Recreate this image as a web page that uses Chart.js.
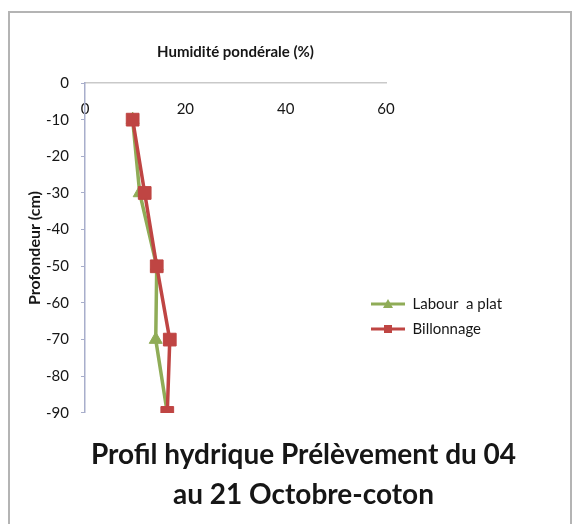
<!DOCTYPE html>
<html>
<head>
<meta charset="utf-8">
<script src="https://cdn.jsdelivr.net/npm/chart.js@4.4.1/dist/chart.umd.min.js"></script>
<style>
  html, body { margin: 0; padding: 0; background: #fff; }
  #frame { position: absolute; left: 8px; top: 11px; width: 560px; height: 520px; border: 2px solid #b4b4b4; border-bottom: none; }
  #myChart { position: absolute; left: 0; top: 0; }
</style>
</head>
<body>
<div id="frame"></div>
<canvas id="myChart" width="573" height="524"></canvas>
<script>
// profondeur des prélèvements (cm) et humidité pondérale (%)
const profondeur = [-10, -30, -50, -70, -90];
const labourAPlat = [9.5, 10.9, 14.3, 14.1, 16.4];
const billonnage = [9.5, 11.9, 14.3, 16.9, 16.4];
const seriesNames = ['Labour  a plat', 'Billonnage'];
const humiditeTicks = [0, 20, 40, 60];
const profondeurTicks = [0, -10, -20, -30, -40, -50, -60, -70, -80, -90];
const titleLines = ['Profil hydrique Prélèvement du 04', 'au 21 Octobre-coton'];

const green = '#8fac57';
const red = '#bf4543';
const font = 'Lato';
const textColor = '#161616';

// petite icone de légende : trait + marqueur (style Excel)
function legendIcon(color, shape) {
    const c = document.createElement('canvas');
    c.width = 34;
    c.height = 12;
    const g = c.getContext('2d');
    g.strokeStyle = color;
    g.lineWidth = 3;
    g.beginPath();
    g.moveTo(0, 6);
    g.lineTo(34, 6);
    g.stroke();
    g.fillStyle = color;
    if (shape === 'triangle') {
        g.beginPath();
        g.moveTo(17, 1);
        g.lineTo(22, 10);
        g.lineTo(12, 10);
        g.closePath();
        g.fill();
    } else {
        g.fillRect(13, 2, 8, 8);
    }
    return c;
}
const icons = [legendIcon(green, 'triangle'), legendIcon(red, 'rect')];

const moveLegend = {
    id: 'moveLegend',
    afterLayout(chart) {
        const lg = chart.legend;
        const w = lg.width, h = lg.height;
        lg.left = 361;
        lg.top = 286.5;
        lg.right = lg.left + w;
        lg.bottom = lg.top + h;
    }
};

const ctx = document.getElementById('myChart');

new Chart(ctx, {
    type: 'scatter',
    data: {
        datasets: [{
            label: seriesNames[0],
            data: profondeur.map((p, i) => ({ x: labourAPlat[i], y: p })),
            xAxisID: 'x',
            yAxisID: 'y',
            showLine: true,
            borderColor: green,
            backgroundColor: green,
            borderWidth: 3.5,
            pointStyle: 'triangle',
            pointRadius: 7.5,
            pointBorderWidth: 1,
            order: 2
        }, {
            label: seriesNames[1],
            data: profondeur.map((p, i) => ({ x: billonnage[i], y: p })),
            xAxisID: 'x',
            yAxisID: 'y',
            showLine: true,
            borderColor: red,
            backgroundColor: red,
            borderWidth: 3.5,
            pointStyle: 'rect',
            pointRadius: 9,
            pointBorderWidth: 1,
            order: 1
        }]
    },
    options: {
        responsive: false,
        animation: false,
        layout: { padding: { left: 36, right: 2, top: 12, bottom: 9 } },
        scales: {
            x: {
                type: 'linear',
                position: { y: 0 },
                min: 0,
                max: 60,
                afterBuildTicks: s => { s.ticks = humiditeTicks.map(v => ({ value: v })); },
                grid: { display: false, drawTicks: false },
                border: { color: '#c9c9c9', width: 1.5 },
                ticks: { padding: 17, color: textColor, font: { family: font, size: 15 } }
            },
            xTop: {
                type: 'linear',
                position: 'top',
                min: 0,
                max: 60,
                ticks: { display: false },
                grid: { display: false, drawTicks: false },
                border: { display: false },
                title: {
                    display: true,
                    text: 'Humidité pondérale (%)',
                    color: textColor,
                    font: { family: font, size: 15, weight: 'bold' },
                    padding: { top: 31, bottom: 22 }
                }
            },
            y: {
                type: 'linear',
                position: 'left',
                min: -90,
                max: 0,
                afterBuildTicks: s => { s.ticks = profondeurTicks.map(v => ({ value: v })); },
                afterFit: s => { s.width = 49; },
                grid: { display: true, drawOnChartArea: false, tickLength: 4, color: '#a8aecb' },
                border: { color: '#a8aecb', width: 1.5 },
                ticks: { padding: 12, color: textColor, font: { family: font, size: 15 } },
                title: {
                    display: true,
                    text: 'Profondeur (cm)',
                    color: textColor,
                    font: { family: font, size: 16, weight: 'bold' },
                    padding: { top: -10.6, bottom: 0 }
                }
            },
            yRight: {
                type: 'linear',
                position: 'right',
                ticks: { display: false },
                grid: { display: false, drawTicks: false },
                border: { display: false },
                afterFit: s => { s.width = 185; }
            }
        },
        plugins: {
            legend: {
                position: 'chartArea',
                align: 'start',
                labels: {
                    usePointStyle: true,
                    pointStyleWidth: 34,
                    padding: 10,
                    color: textColor,
                    font: { family: font, size: 15 },
                    generateLabels: chart => Chart.defaults.plugins.legend.labels.generateLabels(chart)
                        .sort((a, b) => a.datasetIndex - b.datasetIndex)
                        .map(item => Object.assign(item, { pointStyle: icons[item.datasetIndex] }))
                }
            },
            title: {
                display: true,
                position: 'bottom',
                text: titleLines,
                color: textColor,
                font: { family: font, size: 28, weight: 'bold', lineHeight: 1.43 },
                padding: { top: 22, bottom: 0 }
            },
            tooltip: { enabled: false }
        }
    },
    plugins: [moveLegend]
});
</script>
</body>
</html>
